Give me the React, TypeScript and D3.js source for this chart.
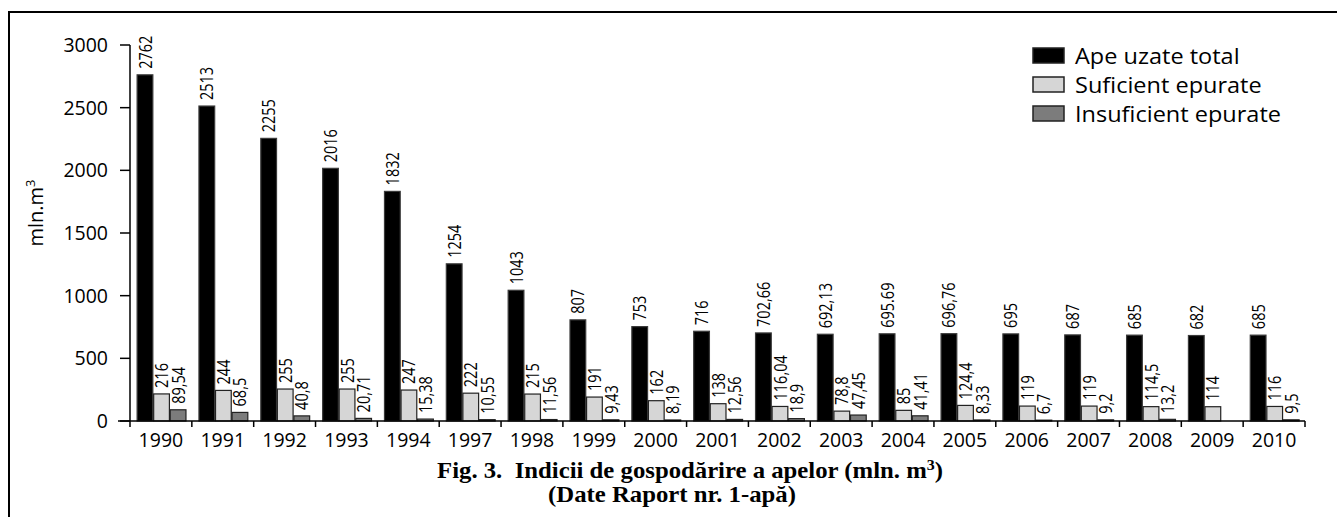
import React from 'react';
import * as d3 from 'd3';

const years = ['1990','1991','1992','1993','1994','1997','1998','1999','2000','2001','2002','2003','2004','2005','2006','2007','2008','2009','2010'];
const totalLabels: (string | null)[] = ['2762','2513','2255','2016','1832','1254','1043','807','753','716','702,66','692,13','695.69','696,76','695','687','685','682','685'];
const sufficientLabels: (string | null)[] = ['216','244','255','255','247','222','215','191','162','138','116,04','78,8','85','124,4','119','119','114,5','114','116'];
const insufficientLabels: (string | null)[] = ['89,54','68,5','40,8','20,71','15,38','10,55','11,56','9,43','8,19','12,56','18,9','47,45','41,41','8,33','6,7','9,2','13,2',null,'9,5'];
const yTicks = [0, 500, 1000, 1500, 2000, 2500, 3000];
const seriesNames = ['Ape uzate total', 'Suficient epurate', 'Insuficient epurate'];
const seriesFills = ['#000000', '#d6d6d6', '#7c7c7c'];
const seriesStrokes = ['#3a3a3a', '#222222', '#222222'];

const parse = (s: string | null) => (s == null ? null : +s.replace(',', '.'));

export default function App() {
  const W = 1337, H = 517;
  const x = d3.scaleBand<string>().domain(years).range([130, 1305]);
  const y = d3.scaleLinear().domain([0, 3000]).range([421, 45]);
  const bw = x.bandwidth();
  const inner = d3.scaleBand<number>().domain([0, 1, 2]).range([bw * 0.115, bw * 0.905]).paddingInner(0.05);
  const allLabels = [totalLabels, sufficientLabels, insufficientLabels];
  const sans = "'Open Sans', sans-serif";

  return (
    <svg width={W} height={H} style={{ position: 'absolute', left: 0, top: 0, background: '#fff' }}>
      <rect x={9} y={12} width={3000} height={3000} fill="none" stroke="#000" strokeWidth={2} />
      {/* bars */}
      {allLabels.map((labels, si) =>
        labels.map((lab, i) => {
          const v = parse(lab);
          if (v == null) return null;
          const bx = (x(years[i]) as number) + (inner(si) as number);
          const by = y(v);
          const h = Math.max(y(0) - by, 0.6);
          return (
            <rect key={`b${si}-${i}`} x={bx} y={y(0) - h} width={inner.bandwidth()} height={h}
              fill={seriesFills[si]} stroke={seriesStrokes[si]} strokeWidth={1.2} />
          );
        })
      )}
      {/* value labels */}
      {allLabels.map((labels, si) =>
        labels.map((lab, i) => {
          const v = parse(lab);
          if (v == null || lab == null) return null;
          const cx = (x(years[i]) as number) + (inner(si) as number) + inner.bandwidth() / 2;
          const ty = y(v) - 6;
          return (
            <text key={`l${si}-${i}`} transform={`translate(${cx},${ty}) scale(1.25,1) rotate(-90)`}
              dy="0.36em" fontFamily={sans} fontSize={14.5} fill="#000">{lab}</text>
          );
        })
      )}
      {/* y axis */}
      <line x1={130} x2={130} y1={y(3000)} y2={y(0)} stroke="#000" strokeWidth={1.5} />
      {yTicks.map(t => (
        <g key={`yt${t}`}>
          <line x1={120} x2={130} y1={y(t)} y2={y(t)} stroke="#000" strokeWidth={1.5} />
          <text x={108} y={y(t)} dy="0.36em" textAnchor="end" fontFamily={sans} fontSize={19.5}>{t}</text>
        </g>
      ))}
      {/* x axis */}
      <line x1={118} x2={1305} y1={y(0)} y2={y(0)} stroke="#000" strokeWidth={1.5} />
      {[...years.map(yr => x(yr) as number), 1305].map((px, i) => (
        <line key={`xt${i}`} x1={px} x2={px} y1={y(0)} y2={y(0) + 6} stroke="#000" strokeWidth={1.5} />
      ))}
      {years.map(yr => (
        <text key={`xl${yr}`} x={(x(yr) as number) + bw / 2} y={447} textAnchor="middle" fontFamily={sans} fontSize={19.5}>{yr}</text>
      ))}
      {/* y label */}
      <text transform={`translate(43,213) rotate(-90)`} textAnchor="middle" fontFamily={sans} fontSize={20}>
        mln.m<tspan dy={-8} fontSize={13}>3</tspan>
      </text>
      {/* legend */}
      {seriesNames.map((name, i) => (
        <g key={`lg${i}`}>
          <rect x={1033} y={48 + i * 29} width={31} height={15} fill={seriesFills[i]} stroke="#222" strokeWidth={1.5} />
          <text transform={`translate(1075,${64 + i * 29}) scale(1.12,1)`} fontFamily={sans} fontSize={21}>{name}</text>
        </g>
      ))}
      {/* title */}
      <text transform={`translate(690,478) scale(1.1,1)`} textAnchor="middle" fontFamily="'Liberation Serif', serif"
        fontWeight="bold" fontSize={22.5} style={{ whiteSpace: 'pre' }}>
        {'Fig. 3.  Indicii de gospodărire a apelor (mln. m'}<tspan dy={-8} fontSize={14.5}>3</tspan><tspan dy={8}>)</tspan>
      </text>
      <text transform={`translate(672,502) scale(1.1,1)`} textAnchor="middle" fontFamily="'Liberation Serif', serif"
        fontWeight="bold" fontSize={22.5}>
        (Date Raport nr. 1-apă)
      </text>
    </svg>
  );
}
